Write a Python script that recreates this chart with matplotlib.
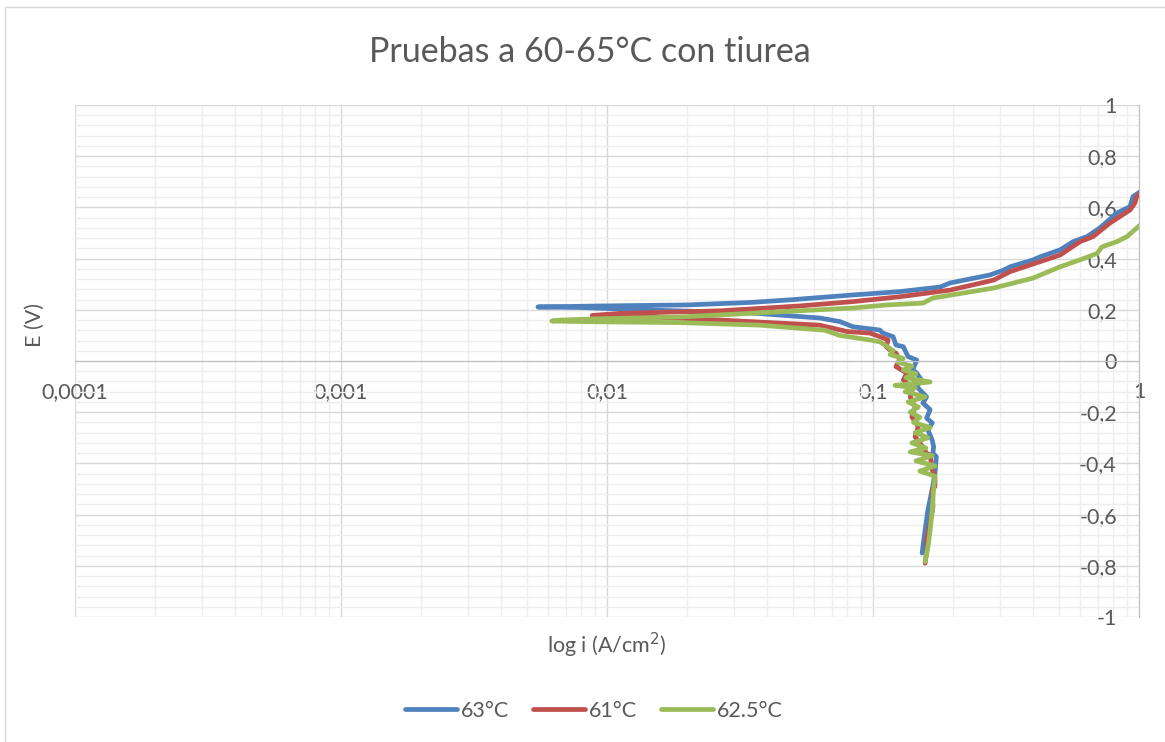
import matplotlib
matplotlib.use("Agg")
import matplotlib.pyplot as plt
from matplotlib.ticker import LogLocator, MultipleLocator, FuncFormatter, NullFormatter
from matplotlib.patches import Rectangle

# Curvas de polarización (E en V, i en A/cm2)
E_63 = [-0.75, -0.66, -0.58, -0.50, -0.44, -0.374, -0.36, -0.335, -0.31, -0.27, -0.242, -0.223,
        -0.19, -0.164, -0.14, -0.10, -0.074, -0.047, -0.035, 0.004, 0.017, 0.056, 0.0625, 0.095,
        0.109, 0.121, 0.134, 0.154, 0.168, 0.173, 0.1875, 0.199, 0.209, 0.211, 0.215, 0.219,
        0.229, 0.238, 0.258, 0.271, 0.289, 0.305, 0.336, 0.355, 0.368, 0.395, 0.407, 0.434,
        0.466, 0.486, 0.52, 0.578, 0.603, 0.642, 0.661]
i_63 = [0.153, 0.157, 0.161, 0.167, 0.171, 0.173, 0.168, 0.169, 0.167, 0.161, 0.167, 0.159,
        0.164, 0.154, 0.159, 0.146, 0.152, 0.146, 0.141, 0.146, 0.1355, 0.130, 0.122, 0.119,
        0.109, 0.106, 0.084, 0.075, 0.063, 0.054, 0.035, 0.0145, 0.0079, 0.0055, 0.0094, 0.020,
        0.035, 0.0475, 0.084, 0.126, 0.179, 0.195, 0.275, 0.31, 0.3275, 0.40, 0.425, 0.505,
        0.565, 0.638, 0.713, 0.826, 0.925, 0.949, 1.01]

E_61 = [-0.79, -0.725, -0.70, -0.633, -0.57, -0.504, -0.49, -0.453, -0.426, -0.367, -0.36,
        -0.328, -0.296, -0.257, -0.218, -0.179, -0.14, -0.105, -0.074, -0.047, -0.022, 0.004,
        0.031, 0.043, 0.056, 0.082, 0.095, 0.109, 0.115, 0.14, 0.16, 0.172, 0.178, 0.186,
        0.196, 0.215, 0.232, 0.251, 0.277, 0.316, 0.349, 0.388, 0.414, 0.466, 0.486, 0.539,
        0.59, 0.617, 0.642, 0.656]
i_61 = [0.157, 0.16, 0.159, 0.164, 0.168, 0.167, 0.171, 0.171, 0.167, 0.164, 0.159, 0.152,
        0.144, 0.148, 0.140, 0.144, 0.138, 0.141, 0.130, 0.134, 0.122, 0.126, 0.122, 0.116,
        0.112, 0.114, 0.106, 0.0975, 0.08, 0.063, 0.0266, 0.0145, 0.0088, 0.0112, 0.0266,
        0.053, 0.084, 0.126, 0.195, 0.284, 0.3275, 0.425, 0.505, 0.60, 0.672, 0.778, 0.925,
        0.965, 0.98, 1.01]

E_625 = [-0.784, -0.725, -0.66, -0.58, -0.50, -0.45, -0.43, -0.41, -0.39, -0.37, -0.355, -0.34,
         -0.32, -0.30, -0.28, -0.26, -0.24, -0.22, -0.20, -0.18, -0.16, -0.14, -0.12, -0.105,
         -0.095, -0.082, -0.065, -0.05, -0.035, -0.02, -0.005, 0.01, 0.025, 0.04, 0.057, 0.075,
         0.082, 0.10, 0.12, 0.14, 0.15, 0.153, 0.156, 0.16, 0.165, 0.172, 0.18, 0.207, 0.219,
         0.226, 0.246, 0.285, 0.324, 0.368, 0.395, 0.42, 0.446, 0.466, 0.486, 0.531]
i_625 = [0.157, 0.161, 0.164, 0.167, 0.169, 0.171, 0.150, 0.171, 0.145, 0.167, 0.138, 0.158,
         0.140, 0.161, 0.144, 0.164, 0.142, 0.150, 0.138, 0.148, 0.1355, 0.157, 0.132, 0.144,
         0.121, 0.164, 0.133, 0.145, 0.130, 0.140, 0.124, 0.130, 0.116, 0.119, 0.113, 0.106,
         0.0975, 0.075, 0.066, 0.0376, 0.0188, 0.0094, 0.0062, 0.0067, 0.0094, 0.0188, 0.0266,
         0.084, 0.113, 0.154, 0.168, 0.284, 0.40, 0.505, 0.60, 0.695, 0.726, 0.826, 0.901, 1.01]

series = [("63°C", i_63, E_63, "#4F81BD"),
          ("61°C", i_61, E_61, "#C0504D"),
          ("62.5°C", i_625, E_625, "#9BBB59")]

plt.rcParams["font.family"] = ["Lato", "DejaVu Sans"]
txt = "#595959"

fig = plt.figure(figsize=(11.65, 7.42), dpi=100)
ax = fig.add_axes([75 / 1165, 1 - 617 / 742, (1139 - 75) / 1165, (617 - 105) / 742])

for nombre, i, E, color in series:
    ax.plot(i, E, color=color, lw=3.4, label=nombre, solid_capstyle="round", solid_joinstyle="round")

ax.set_xscale("log")
ax.set_xlim(1e-4, 1)
ax.set_ylim(-1, 1)

# rejilla mayor / menor
ax.xaxis.set_major_locator(LogLocator(base=10, numticks=10))
ax.xaxis.set_minor_locator(LogLocator(base=10, subs=range(2, 10), numticks=20))
ax.xaxis.set_minor_formatter(NullFormatter())
ax.yaxis.set_major_locator(MultipleLocator(0.2))
ax.yaxis.set_minor_locator(MultipleLocator(0.04))
ax.grid(which="major", color="#d9d9d9", lw=1)
ax.grid(which="minor", color="#eeeeee", lw=1)
ax.set_axisbelow(True)

def coma(v, pos):
    s = f"{v:.4f}".rstrip("0").rstrip(".")
    if s == "-0":
        s = "0"
    return s.replace(".", ",")

ax.xaxis.set_major_formatter(FuncFormatter(coma))
ax.yaxis.set_major_formatter(FuncFormatter(coma))

for s in ["top", "left"]:
    ax.spines[s].set_visible(False)
ax.spines["bottom"].set_position(("data", 0))
ax.spines["bottom"].set_color("#bfbfbf")
ax.spines["right"].set_color("#bfbfbf")
ax.yaxis.tick_right()
ax.tick_params(which="both", length=0)
ax.tick_params(axis="x", pad=15, labelsize=15.5, colors=txt)
ax.tick_params(axis="y", pad=-16, labelsize=15.5, colors=txt)
for lab in ax.get_yticklabels():
    lab.set_ha("right")

fig.text(590 / 1165, 1 - 52 / 742, "Pruebas a 60-65°C con tiurea", ha="center", va="center",
         fontsize=24.5, color=txt)
fig.text(35 / 1165, 1 - 325 / 742, "E (V)", rotation=90, ha="center", va="center",
         fontsize=15.5, color=txt)
fig.text(607 / 1165, 1 - 645 / 742, "log i (A/cm$^2$)", ha="center", va="center",
         fontsize=15.5, color=txt)

fig.legend(loc="center", bbox_to_anchor=(594 / 1165, 1 - 711 / 742), ncol=3, frameon=False,
           fontsize=15.5, labelcolor=txt, handlelength=2.4, handletextpad=0.2, columnspacing=1.1)

fig.patches.append(Rectangle((5 / 1165, -0.01), 1.0, 1 - 7 / 742 + 0.01, transform=fig.transFigure,
                             fill=False, edgecolor="#d9d9d9", lw=1))

fig.savefig("out.png", dpi=100)
